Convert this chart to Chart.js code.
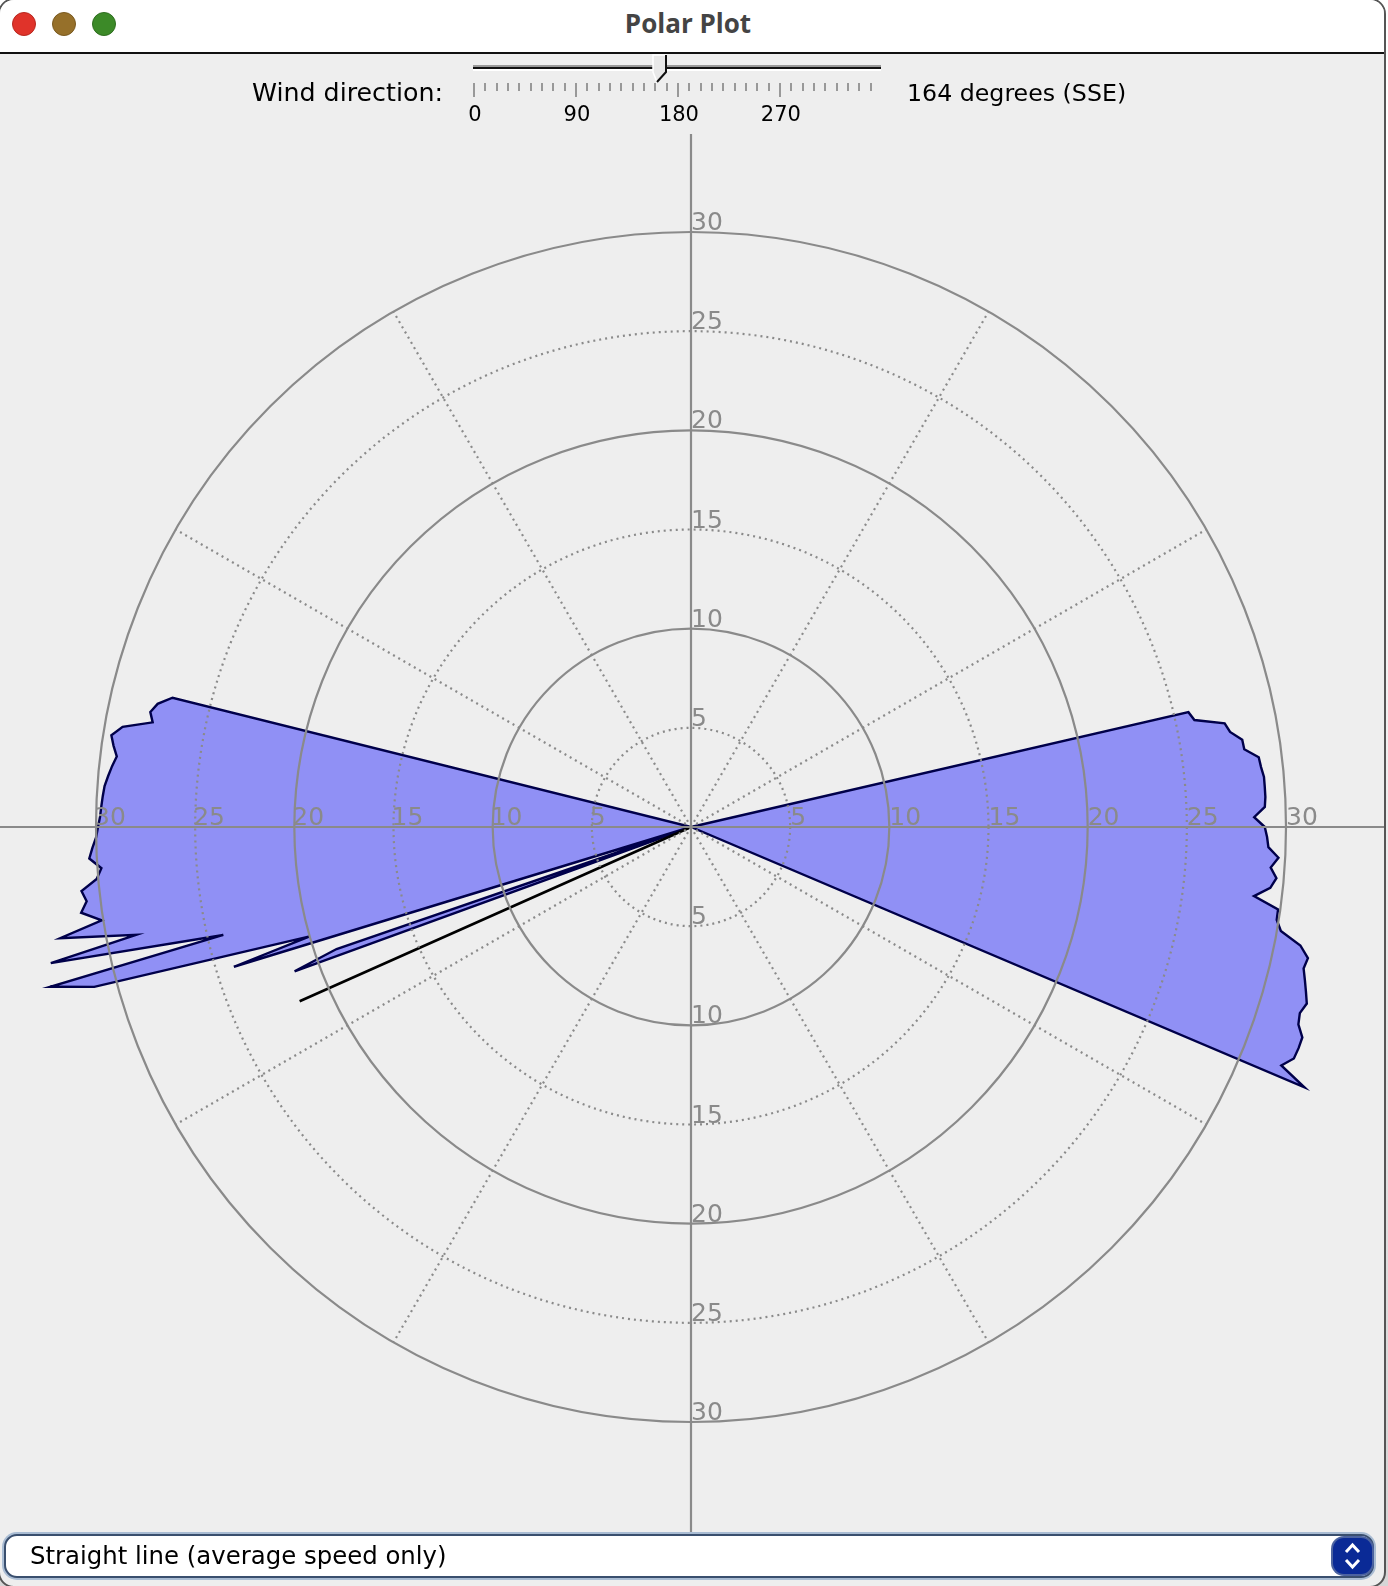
<!DOCTYPE html>
<html>
<head>
<meta charset="utf-8">
<title>Polar Plot</title>
<script src="https://cdn.jsdelivr.net/npm/chart.js@4/dist/chart.umd.js"></script>
<style>
html, body { margin: 0; padding: 0; height: 1586px; overflow: hidden; background: linear-gradient(#fff 0, #fff 300px, #d6d6d6 1500px); }
#win { position: absolute; left: -2px; top: -2px; box-sizing: border-box; width: 1388px; height: 1590px; background: #eeeeee; overflow: hidden; border: 2px solid #555; border-radius: 16px; font-family: "DejaVu Sans", sans-serif; color: #000; }
#plot { position: absolute; left: 0; top: 0; }
#bar { position: absolute; left: 0; top: 0; width: 1388px; height: 52px; background: #fff; border-bottom: 2px solid #111; }
#bar .dot { position: absolute; top: 12px; width: 24px; height: 24px; border-radius: 50%; box-sizing: border-box; }
#bar .name { position: absolute; left: 0; width: 1376px; top: 5px; text-align: center; font: bold 26px "Open Sans", sans-serif; color: #444; }
.txt { position: absolute; white-space: nowrap; }
#track { position: absolute; left: 473px; top: 67px; width: 408px; height: 2px; background: #111; box-shadow: 0 -2px 0 #999, 0 2px 0 #fff; }
#thumb { position: absolute; left: 650px; top: 53px; }
.tk { position: absolute; top: 83px; width: 2px; background: #999; }
.tl { position: absolute; top: 102px; font-size: 21px; width: 60px; text-align: center; }
#combo { position: absolute; left: 4px; top: 1534px; width: 1366px; height: 40px; background: #fff; border: 2px solid #3a4f6e; border-radius: 13px; box-shadow: 0 0 0 2px #a9bcd3; }
#combo .lab { position: absolute; left: 24px; top: 5px; font-size: 24.4px; white-space: nowrap; }
#combo .btn { position: absolute; left: 1327px; top: 2px; width: 39px; height: 36px; background: #0a2a96; border-radius: 11px; box-shadow: 0 0 0 2px #4c63a0; }
</style>
</head>
<body>
<div id="win">
  <canvas id="plot" width="1388" height="1586"></canvas>
  <div id="bar">
    <div class="dot" style="left:12px;background:#e0332a;border:1px solid #b8281f"></div>
    <div class="dot" style="left:52px;background:#96702a;border:1px solid #7a5a20"></div>
    <div class="dot" style="left:92px;background:#3c8a28;border:1px solid #2f6e20"></div>
    <div class="name">Polar Plot</div>
  </div>
  <div class="txt" style="left:252px;top:78px;font-size:25.3px">Wind direction:</div>
  <div id="track"></div>
  <svg id="thumb" width="20" height="32" viewBox="0 0 20 32">
    <polygon points="3,2 16,2 16,19 7,29 3,19" fill="#e8e8e8" stroke="#fff" stroke-width="1.5"/>
    <polyline points="16,2 16,19 7,29" fill="none" stroke="#111" stroke-width="2"/>
  </svg>
  <div id="ticks"></div>
  <div class="txt" style="left:907px;top:79px;font-size:23.7px">164 degrees (SSE)</div>
  <div id="combo">
    <div class="lab">Straight line (average speed only)</div>
    <div class="btn">
      <svg width="39" height="36" viewBox="0 0 39 36">
        <polyline points="13,14 19.5,7 26,14" fill="none" stroke="#fff" stroke-width="3"/>
        <polyline points="13,22 19.5,29 26,22" fill="none" stroke="#fff" stroke-width="3"/>
      </svg>
    </div>
  </div>
</div>
<script>
// wind bearings (degrees from north) and average speed
const bearings = [
  77, 78, 79, 80, 81, 82, 83, 84, 85, 86, 87, 88, 89, 90, 91, 92, 93, 94, 95,
  96, 97, 98, 99, 100, 101, 102, 103, 104, 105, 106, 107, 108, 109, 110, 111, 112, 113,
  250, 251, 253, 254, 255, 256, 257, 258, 259, 260, 261, 262, 263, 264, 265, 266,
  267, 268, 269, 270, 271, 272, 273, 274, 275, 276, 277, 278, 279, 280, 281, 282, 283, 284
];
const avgSpeeds = [
  25.74, 25.95, 27.41, 27.6, 28.14, 28.17, 28.84, 28.9, 29.0, 29.0, 29.0, 28.95, 28.4, 28.93, 29.05, 29.13, 29.66, 29.3, 29.63,
  29.37, 28.6, 29.89, 29.9, 30.2, 31.3, 31.8, 31.7, 31.9, 32.1, 32.3, 32.1, 32.2, 32.6, 32.6, 32.56, 32.1, 33.6,
  21.27, 18.9, 24.1, 20.0, 31.15, 33.3, 24.2, 33.0, 28.5, 32.3, 30.08, 31.05, 30.7, 30.9, 30.08, 29.8,
  30.38, 30.2, 30.0, 29.9, 29.8, 29.75, 29.7, 29.64, 29.5, 29.35, 29.17, 29.4, 29.59, 29.1, 27.65, 27.87, 27.6, 26.94
];
// the single reading that shows up as a bare black line
const loneBearing = 246;
const loneSpeed = 21.6;
const ringTicks = [5, 10, 15, 20, 25, 30];
const sliderLabels = [0, 90, 180, 270];

// radar needs one slot per degree, no reading = no wind
const labels = [];
const speeds = [];
const loneLine = [];
for (let i = 0; i < 360; i++) {
    labels.push(String(i));
    let k = bearings.indexOf(i);
    speeds.push(k >= 0 ? avgSpeeds[k] : 0);
    loneLine.push(i == loneBearing ? loneSpeed : (Math.abs(i - loneBearing) == 1 ? 0 : null));
}

// slider ticks
const ticksBox = document.getElementById('ticks');
const pxPerDeg = 1.133;
for (let d = 0; d <= 350; d += 10) {
    let t = document.createElement('div');
    t.className = 'tk';
    t.style.left = (473 + d * pxPerDeg) + 'px';
    t.style.height = (d % 90 == 0 ? 14 : 8) + 'px';
    ticksBox.appendChild(t);
}
sliderLabels.forEach(function (v) {
    let t = document.createElement('div');
    t.className = 'tl';
    t.textContent = v;
    t.style.left = (445 + v * pxPerDeg) + 'px';
    ticksBox.appendChild(t);
});

const GRID = '#8a8a8a';

// the cross through the middle and the speed labels on all four arms
const crossAndLabels = {
    id: 'crossAndLabels',
    afterDraw(chart) {
        const r = chart.scales.r;
        const ctx = chart.ctx;
        ctx.save();
        ctx.strokeStyle = GRID;
        ctx.lineWidth = 2.2;
        ctx.beginPath();
        ctx.moveTo(r.xCenter, 134);
        ctx.lineTo(r.xCenter, 1534);
        ctx.moveTo(0, r.yCenter);
        ctx.lineTo(1388, r.yCenter);
        ctx.stroke();
        ctx.fillStyle = GRID;
        ctx.font = '25px "DejaVu Sans"';
        ctx.textAlign = 'left';
        ctx.textBaseline = 'alphabetic';
        [0, 90, 180, 270].forEach(function (b) {
            ringTicks.forEach(function (v) {
                let p = r.getPointPositionForValue(b, v);
                ctx.fillText(String(v), p.x - (b == 270 ? 2 : 0), p.y - 2);
            });
        });
        ctx.restore();
    }
};

new Chart(document.getElementById('plot').getContext('2d'), {
    type: 'radar',
    data: {
        labels: labels,
        datasets: [{
            label: 'Average speed',
            data: speeds,
            clip: false,
            fill: 'origin',
            backgroundColor: '#9090f5',
            borderColor: '#00004a',
            borderWidth: 2.4,
            pointRadius: 0,
            tension: 0,
            order: 2
        }, {
            label: 'Lone reading',
            data: loneLine,
            clip: false,
            fill: false,
            borderColor: '#000',
            borderWidth: 2.6,
            pointRadius: 0,
            tension: 0,
            order: 1
        }]
    },
    options: {
        responsive: false,
        animation: false,
        layout: { padding: { left: 0, right: 6, top: 232, bottom: 164 } },
        plugins: { legend: { display: false }, tooltip: { enabled: false } },
        scales: {
            r: {
                min: 0,
                max: 30,
                ticks: { display: false, stepSize: 5 },
                pointLabels: { display: false },
                grid: {
                    circular: true,
                    z: 1,
                    color: GRID,
                    lineWidth: 2.2
                },
                border: {
                    dash: function (c) { return c.tick && c.tick.value % 10 == 0 ? [] : [2, 4]; }
                },
                angleLines: {
                    color: GRID,
                    lineWidth: function (c) { return (c.index % 30 == 0 && c.index % 90 != 0) ? 2.2 : 0; },
                    borderDash: [2, 4]
                }
            }
        }
    },
    plugins: [crossAndLabels]
});
</script>
</body>
</html>
